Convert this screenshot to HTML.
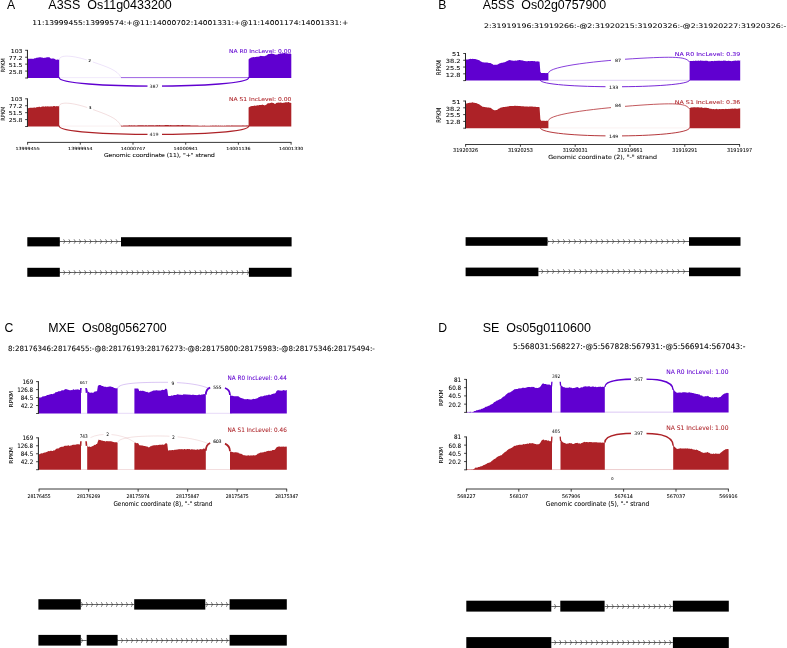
<!DOCTYPE html>
<html lang="en"><head><meta charset="utf-8"><title>Sashimi plots</title>
<style>html,body{margin:0;padding:0;background:#fff;}body{width:787px;height:648px;overflow:hidden;}svg{display:block;}text{white-space:pre;}</style>
</head><body>
<svg width="787" height="648" viewBox="0 0 787 648">
<text transform="translate(7.00,8.90)" font-family="Liberation Sans, sans-serif" font-size="12.2" text-anchor="start" fill="#000" >A</text>
<text transform="translate(48.30,8.90) scale(1.026,1)" font-family="Liberation Sans, sans-serif" font-size="12.2" text-anchor="start" fill="#000" >A3SS  Os11g0433200</text>
<text transform="translate(438.30,8.90)" font-family="Liberation Sans, sans-serif" font-size="12.2" text-anchor="start" fill="#000" >B</text>
<text transform="translate(482.70,8.90) scale(1.018,1)" font-family="Liberation Sans, sans-serif" font-size="12.2" text-anchor="start" fill="#000" >A5SS  Os02g0757900</text>
<text transform="translate(32.30,24.50) scale(1.145,1)" font-family="DejaVu Sans, Liberation Sans, sans-serif" font-size="6.6" text-anchor="start" fill="#000" stroke="#000" stroke-width="0.06" >11:13999455:13999574:+@11:14000702:14001331:+@11:14001174:14001331:+</text>
<text transform="translate(483.90,27.70) scale(1.246,1)" font-family="DejaVu Sans, Liberation Sans, sans-serif" font-size="6.3" text-anchor="start" fill="#000" stroke="#000" stroke-width="0.06" >2:31919196:31919266:-@2:31920215:31920326:-@2:31920227:31920326:-</text>
<path d="M27.45,78.00 L27.45,58.62 L28.26,58.74 L29.08,58.72 L29.89,58.82 L30.71,58.86 L31.52,58.72 L32.33,58.73 L33.15,58.96 L33.96,58.54 L34.78,58.29 L35.59,58.27 L36.41,57.87 L37.22,57.74 L38.03,57.39 L38.85,57.39 L39.66,57.18 L40.48,57.28 L41.29,57.40 L42.10,57.54 L42.92,57.85 L43.73,58.07 L44.55,57.82 L45.36,57.81 L46.17,57.55 L46.99,57.24 L47.80,57.13 L48.62,57.34 L49.43,57.19 L50.24,57.96 L51.06,58.71 L51.87,58.61 L52.69,58.61 L53.50,58.40 L54.32,58.72 L55.13,59.21 L55.94,59.68 L56.76,59.75 L57.57,59.60 L58.39,59.70 L59.20,59.82 L59.20,78.00Z" fill="#6000D0"/>
<path d="M248.60,78.00 L248.60,59.48 L249.41,58.62 L250.21,58.20 L251.02,57.48 L251.82,57.47 L252.63,57.27 L253.43,57.12 L254.24,57.13 L255.05,57.00 L255.85,57.07 L256.66,56.80 L257.46,56.81 L258.27,56.64 L259.07,56.58 L259.88,56.26 L260.68,55.82 L261.49,56.10 L262.30,56.12 L263.10,56.19 L263.91,56.10 L264.71,56.29 L265.52,55.72 L266.32,55.60 L267.13,54.97 L267.94,54.31 L268.74,53.89 L269.55,54.10 L270.35,53.91 L271.16,53.20 L271.96,53.84 L272.77,53.82 L273.58,53.88 L274.38,54.15 L275.19,54.60 L275.99,54.82 L276.80,54.49 L277.60,54.59 L278.41,53.87 L279.22,53.90 L280.02,53.30 L280.83,53.55 L281.63,53.53 L282.44,53.16 L283.24,53.37 L284.05,52.90 L284.85,52.92 L285.66,53.39 L286.47,53.21 L287.27,53.43 L288.08,53.59 L288.88,53.75 L289.69,53.52 L290.49,53.49 L291.30,54.02 L291.30,78.00Z" fill="#6000D0"/>
<path d="M59,77.6 H121" stroke="#6000D0" stroke-opacity="0.15" stroke-width="0.6"/>
<path d="M121,77.6 H248.8" stroke="#6000D0" stroke-opacity="0.95" stroke-width="0.65"/>
<path d="M59.2,59.9 C59.5,54 74,55.5 90,61 S118,70 121,77.6" stroke="#6000D0" stroke-opacity="0.25" stroke-width="0.45" fill="none"/>
<rect x="86.8" y="57.5" width="6" height="6" fill="#fff"/>
<path d="M59.20,77.70 C59.20,88.90 248.70,88.90 248.70,77.70" fill="none" stroke="#6000D0" stroke-width="1.3" stroke-opacity="1" stroke-linecap="round"/>
<rect x="147.50" y="83.10" width="14.50" height="6" fill="#fff"/>
<text transform="translate(154.00,87.70) scale(1.080,1)" font-family="DejaVu Sans, Liberation Sans, sans-serif" font-size="4.5" text-anchor="middle" fill="#222" >387</text>
<text transform="translate(89.80,61.90)" font-family="DejaVu Sans, Liberation Sans, sans-serif" font-size="3.8" text-anchor="middle" fill="#000" stroke="#000" stroke-width="0.12" >2</text>
<path d="M27.45,49.90 V78.40" stroke="#222" stroke-width="1.0" fill="none"/>
<path d="M25.15,50.30 H27.45" stroke="#222" stroke-width="0.85" fill="none"/>
<text transform="translate(22.55,52.81) scale(1.130,1)" font-family="DejaVu Sans, Liberation Sans, sans-serif" font-size="5.5" text-anchor="end" fill="#000" stroke="#000" stroke-width="0.06" >103</text>
<path d="M25.15,57.22 H27.45" stroke="#222" stroke-width="0.85" fill="none"/>
<text transform="translate(22.55,59.73) scale(1.130,1)" font-family="DejaVu Sans, Liberation Sans, sans-serif" font-size="5.5" text-anchor="end" fill="#000" stroke="#000" stroke-width="0.06" >77.2</text>
<path d="M25.15,64.15 H27.45" stroke="#222" stroke-width="0.85" fill="none"/>
<text transform="translate(22.55,66.66) scale(1.130,1)" font-family="DejaVu Sans, Liberation Sans, sans-serif" font-size="5.5" text-anchor="end" fill="#000" stroke="#000" stroke-width="0.06" >51.5</text>
<path d="M25.15,71.08 H27.45" stroke="#222" stroke-width="0.85" fill="none"/>
<text transform="translate(22.55,73.58) scale(1.130,1)" font-family="DejaVu Sans, Liberation Sans, sans-serif" font-size="5.5" text-anchor="end" fill="#000" stroke="#000" stroke-width="0.06" >25.8</text>
<path d="M25.15,78.00 H27.45" stroke="#222" stroke-width="0.85" fill="none"/>
<text transform="translate(4.80,65.25) scale(1.130,1) rotate(-90)" font-family="DejaVu Sans, Liberation Sans, sans-serif" font-size="5.0" text-anchor="middle" fill="#000" stroke="#000" stroke-width="0.06" >RPKM</text>
<text transform="translate(291.30,52.80) scale(1.132,1)" font-family="DejaVu Sans, Liberation Sans, sans-serif" font-size="5.3" text-anchor="end" fill="#6000D0" stroke="#6000D0" stroke-width="0.06" >NA R0 IncLevel: 0.00</text>
<path d="M27.45,126.50 L27.45,107.77 L28.26,108.19 L29.08,108.12 L29.89,107.73 L30.71,107.75 L31.52,107.77 L32.33,107.82 L33.15,107.75 L33.96,107.61 L34.78,107.54 L35.59,107.65 L36.41,107.23 L37.22,107.06 L38.03,107.15 L38.85,106.76 L39.66,106.75 L40.48,107.17 L41.29,106.80 L42.10,106.76 L42.92,106.33 L43.73,106.56 L44.55,106.64 L45.36,106.22 L46.17,106.61 L46.99,106.59 L47.80,106.17 L48.62,106.54 L49.43,106.40 L50.24,106.52 L51.06,106.25 L51.87,106.47 L52.69,106.46 L53.50,105.93 L54.32,105.92 L55.13,106.33 L55.94,106.55 L56.76,106.07 L57.57,106.23 L58.39,106.35 L59.20,106.17 L59.20,126.50Z" fill="#AD2227"/>
<path d="M248.60,126.50 L248.60,107.42 L249.41,106.95 L250.21,106.55 L251.02,106.26 L251.82,105.98 L252.63,105.93 L253.43,106.07 L254.24,105.53 L255.05,105.76 L255.85,105.76 L256.66,105.40 L257.46,105.24 L258.27,105.48 L259.07,105.03 L259.88,104.90 L260.68,104.94 L261.49,104.99 L262.30,104.62 L263.10,104.91 L263.91,105.08 L264.71,105.54 L265.52,104.98 L266.32,104.64 L267.13,103.64 L267.94,103.15 L268.74,103.20 L269.55,103.24 L270.35,102.88 L271.16,102.64 L271.96,102.48 L272.77,103.00 L273.58,103.09 L274.38,103.76 L275.19,103.92 L275.99,103.15 L276.80,102.83 L277.60,102.77 L278.41,102.53 L279.22,102.73 L280.02,102.55 L280.83,102.52 L281.63,102.71 L282.44,103.11 L283.24,102.81 L284.05,102.67 L284.85,102.53 L285.66,102.35 L286.47,102.17 L287.27,102.38 L288.08,102.02 L288.88,102.02 L289.69,102.68 L290.49,102.73 L291.30,102.89 L291.30,126.50Z" fill="#AD2227"/>
<path d="M121.00,126.50 L121.00,125.58 L121.80,125.72 L122.61,125.69 L123.41,125.47 L124.21,125.60 L125.01,125.62 L125.82,125.55 L126.62,125.49 L127.42,125.40 L128.22,125.40 L129.03,125.35 L129.83,125.28 L130.63,125.42 L131.43,125.31 L132.24,125.45 L133.04,125.21 L133.84,125.45 L134.64,125.37 L135.45,125.43 L136.25,125.42 L137.05,125.42 L137.85,125.32 L138.66,125.15 L139.46,125.36 L140.26,125.19 L141.06,125.23 L141.87,125.34 L142.67,125.29 L143.47,125.26 L144.27,125.41 L145.08,125.31 L145.88,125.23 L146.68,125.20 L147.48,125.38 L148.29,125.27 L149.09,125.36 L149.89,125.23 L150.69,125.18 L151.50,125.28 L152.30,125.36 L153.10,125.17 L153.90,125.35 L154.71,125.39 L155.51,125.35 L156.31,125.35 L157.11,125.11 L157.92,125.29 L158.72,125.36 L159.52,125.12 L160.32,125.18 L161.13,125.18 L161.93,125.25 L162.73,125.22 L163.53,125.23 L164.34,125.32 L165.14,125.09 L165.94,125.10 L166.74,125.12 L167.55,125.12 L168.35,125.10 L169.15,125.37 L169.95,125.34 L170.76,125.10 L171.56,125.23 L172.36,125.17 L173.16,125.17 L173.97,125.18 L174.77,125.26 L175.57,125.24 L176.37,125.18 L177.18,125.12 L177.98,125.16 L178.78,125.10 L179.58,125.23 L180.39,125.27 L181.19,125.17 L181.99,125.08 L182.79,125.11 L183.60,125.16 L184.40,125.23 L185.20,125.29 L186.00,125.20 L186.81,125.35 L187.61,125.32 L188.41,125.29 L189.21,125.30 L190.02,125.37 L190.82,125.45 L191.62,125.40 L192.42,125.51 L193.23,125.46 L194.03,125.42 L194.83,125.54 L195.63,125.61 L196.44,125.45 L197.24,125.59 L198.04,125.61 L198.84,125.78 L199.65,125.82 L200.45,125.66 L201.25,125.81 L202.05,125.77 L202.86,125.61 L203.66,125.67 L204.46,125.56 L205.26,125.76 L206.07,125.71 L206.87,125.77 L207.67,125.74 L208.47,125.70 L209.28,125.71 L210.08,125.66 L210.88,125.51 L211.68,125.65 L212.49,125.47 L213.29,125.51 L214.09,125.70 L214.89,125.47 L215.70,125.48 L216.50,125.48 L217.30,125.71 L218.10,125.49 L218.91,125.44 L219.71,125.68 L220.51,125.46 L221.31,125.67 L222.12,125.62 L222.92,125.66 L223.72,125.69 L224.52,125.57 L225.33,125.63 L226.13,125.40 L226.93,125.61 L227.73,125.53 L228.54,125.59 L229.34,125.40 L230.14,125.59 L230.94,125.64 L231.75,125.37 L232.55,125.45 L233.35,125.51 L234.15,125.59 L234.96,125.41 L235.76,125.38 L236.56,125.40 L237.36,125.50 L238.17,125.54 L238.97,125.43 L239.77,125.41 L240.57,125.42 L241.38,125.40 L242.18,125.42 L242.98,125.31 L243.78,125.43 L244.59,125.57 L245.39,125.39 L246.19,125.49 L246.99,125.31 L247.80,125.46 L248.60,125.48 L248.60,126.50Z" fill="#AD2227"/>
<path d="M59,126.1 H248.8" stroke="#AD2227" stroke-opacity="0.12" stroke-width="0.6"/>
<path d="M59.2,106.3 C59.5,101 74,102.8 90,108.5 S118,118 121,126.2" stroke="#AD2227" stroke-opacity="0.33" stroke-width="0.45" fill="none"/>
<rect x="87.2" y="104.5" width="6" height="6" fill="#fff"/>
<path d="M59.20,126.20 C59.20,137.20 248.70,137.20 248.70,126.20" fill="none" stroke="#AD2227" stroke-width="1.25" stroke-opacity="1" stroke-linecap="round"/>
<rect x="147.50" y="131.45" width="14.50" height="6" fill="#fff"/>
<text transform="translate(154.00,136.05) scale(1.080,1)" font-family="DejaVu Sans, Liberation Sans, sans-serif" font-size="4.5" text-anchor="middle" fill="#222" >419</text>
<text transform="translate(90.30,108.80)" font-family="DejaVu Sans, Liberation Sans, sans-serif" font-size="3.8" text-anchor="middle" fill="#000" stroke="#000" stroke-width="0.12" >3</text>
<path d="M27.45,98.40 V126.90" stroke="#222" stroke-width="1.0" fill="none"/>
<path d="M25.15,98.80 H27.45" stroke="#222" stroke-width="0.85" fill="none"/>
<text transform="translate(22.55,101.31) scale(1.130,1)" font-family="DejaVu Sans, Liberation Sans, sans-serif" font-size="5.5" text-anchor="end" fill="#000" stroke="#000" stroke-width="0.06" >103</text>
<path d="M25.15,105.72 H27.45" stroke="#222" stroke-width="0.85" fill="none"/>
<text transform="translate(22.55,108.23) scale(1.130,1)" font-family="DejaVu Sans, Liberation Sans, sans-serif" font-size="5.5" text-anchor="end" fill="#000" stroke="#000" stroke-width="0.06" >77.2</text>
<path d="M25.15,112.65 H27.45" stroke="#222" stroke-width="0.85" fill="none"/>
<text transform="translate(22.55,115.16) scale(1.130,1)" font-family="DejaVu Sans, Liberation Sans, sans-serif" font-size="5.5" text-anchor="end" fill="#000" stroke="#000" stroke-width="0.06" >51.5</text>
<path d="M25.15,119.58 H27.45" stroke="#222" stroke-width="0.85" fill="none"/>
<text transform="translate(22.55,122.08) scale(1.130,1)" font-family="DejaVu Sans, Liberation Sans, sans-serif" font-size="5.5" text-anchor="end" fill="#000" stroke="#000" stroke-width="0.06" >25.8</text>
<path d="M25.15,126.50 H27.45" stroke="#222" stroke-width="0.85" fill="none"/>
<text transform="translate(4.80,113.75) scale(1.130,1) rotate(-90)" font-family="DejaVu Sans, Liberation Sans, sans-serif" font-size="5.0" text-anchor="middle" fill="#000" stroke="#000" stroke-width="0.06" >RPKM</text>
<text transform="translate(291.30,101.30) scale(1.139,1)" font-family="DejaVu Sans, Liberation Sans, sans-serif" font-size="5.3" text-anchor="end" fill="#AD2227" stroke="#AD2227" stroke-width="0.06" >NA S1 IncLevel: 0.00</text>
<path d="M27.20,142.40 H291.50" stroke="#222" stroke-width="0.9" fill="none"/>
<path d="M27.60,142.40 V144.70" stroke="#222" stroke-width="0.85" fill="none"/>
<text transform="translate(27.60,149.60) scale(1.141,1)" font-family="DejaVu Sans, Liberation Sans, sans-serif" font-size="4.2" text-anchor="middle" fill="#000" stroke="#000" stroke-width="0.06" >13999455</text>
<path d="M80.30,142.40 V144.70" stroke="#222" stroke-width="0.85" fill="none"/>
<text transform="translate(80.30,149.60) scale(1.141,1)" font-family="DejaVu Sans, Liberation Sans, sans-serif" font-size="4.2" text-anchor="middle" fill="#000" stroke="#000" stroke-width="0.06" >13999954</text>
<path d="M133.00,142.40 V144.70" stroke="#222" stroke-width="0.85" fill="none"/>
<text transform="translate(133.00,149.60) scale(1.141,1)" font-family="DejaVu Sans, Liberation Sans, sans-serif" font-size="4.2" text-anchor="middle" fill="#000" stroke="#000" stroke-width="0.06" >14000747</text>
<path d="M185.70,142.40 V144.70" stroke="#222" stroke-width="0.85" fill="none"/>
<text transform="translate(185.70,149.60) scale(1.141,1)" font-family="DejaVu Sans, Liberation Sans, sans-serif" font-size="4.2" text-anchor="middle" fill="#000" stroke="#000" stroke-width="0.06" >14000941</text>
<path d="M238.40,142.40 V144.70" stroke="#222" stroke-width="0.85" fill="none"/>
<text transform="translate(238.40,149.60) scale(1.141,1)" font-family="DejaVu Sans, Liberation Sans, sans-serif" font-size="4.2" text-anchor="middle" fill="#000" stroke="#000" stroke-width="0.06" >14001136</text>
<path d="M291.10,142.40 V144.70" stroke="#222" stroke-width="0.85" fill="none"/>
<text transform="translate(291.10,149.60) scale(1.141,1)" font-family="DejaVu Sans, Liberation Sans, sans-serif" font-size="4.2" text-anchor="middle" fill="#000" stroke="#000" stroke-width="0.06" >14001330</text>
<text transform="translate(159.35,157.30) scale(1.101,1)" font-family="DejaVu Sans, Liberation Sans, sans-serif" font-size="5.5" text-anchor="middle" fill="#000" stroke="#000" stroke-width="0.06" >Genomic coordinate (11), "+" strand</text>
<path d="M59.80,241.50 H121.00" stroke="#333" stroke-width="0.75" fill="none"/>
<path d="M58.30,239.25 L59.65,241.50 L58.30,243.75 M63.55,239.25 L64.90,241.50 L63.55,243.75 M68.80,239.25 L70.15,241.50 L68.80,243.75 M74.05,239.25 L75.40,241.50 L74.05,243.75 M79.30,239.25 L80.65,241.50 L79.30,243.75 M84.55,239.25 L85.90,241.50 L84.55,243.75 M89.80,239.25 L91.15,241.50 L89.80,243.75 M95.05,239.25 L96.40,241.50 L95.05,243.75 M100.30,239.25 L101.65,241.50 L100.30,243.75 M105.55,239.25 L106.90,241.50 L105.55,243.75 M110.80,239.25 L112.15,241.50 L110.80,243.75 M116.05,239.25 L117.40,241.50 L116.05,243.75 " stroke="#2a2a2a" stroke-width="0.6" fill="none"/>
<rect x="27.30" y="237.20" width="32.50" height="9.20" fill="#000"/>
<rect x="121.00" y="237.20" width="170.60" height="9.20" fill="#000"/>
<path d="M59.80,272.50 H248.90" stroke="#333" stroke-width="0.75" fill="none"/>
<path d="M58.30,270.25 L59.65,272.50 L58.30,274.75 M63.55,270.25 L64.90,272.50 L63.55,274.75 M68.80,270.25 L70.15,272.50 L68.80,274.75 M74.05,270.25 L75.40,272.50 L74.05,274.75 M79.30,270.25 L80.65,272.50 L79.30,274.75 M84.55,270.25 L85.90,272.50 L84.55,274.75 M89.80,270.25 L91.15,272.50 L89.80,274.75 M95.05,270.25 L96.40,272.50 L95.05,274.75 M100.30,270.25 L101.65,272.50 L100.30,274.75 M105.55,270.25 L106.90,272.50 L105.55,274.75 M110.80,270.25 L112.15,272.50 L110.80,274.75 M116.05,270.25 L117.40,272.50 L116.05,274.75 M121.30,270.25 L122.65,272.50 L121.30,274.75 M126.55,270.25 L127.90,272.50 L126.55,274.75 M131.80,270.25 L133.15,272.50 L131.80,274.75 M137.05,270.25 L138.40,272.50 L137.05,274.75 M142.30,270.25 L143.65,272.50 L142.30,274.75 M147.55,270.25 L148.90,272.50 L147.55,274.75 M152.80,270.25 L154.15,272.50 L152.80,274.75 M158.05,270.25 L159.40,272.50 L158.05,274.75 M163.30,270.25 L164.65,272.50 L163.30,274.75 M168.55,270.25 L169.90,272.50 L168.55,274.75 M173.80,270.25 L175.15,272.50 L173.80,274.75 M179.05,270.25 L180.40,272.50 L179.05,274.75 M184.30,270.25 L185.65,272.50 L184.30,274.75 M189.55,270.25 L190.90,272.50 L189.55,274.75 M194.80,270.25 L196.15,272.50 L194.80,274.75 M200.05,270.25 L201.40,272.50 L200.05,274.75 M205.30,270.25 L206.65,272.50 L205.30,274.75 M210.55,270.25 L211.90,272.50 L210.55,274.75 M215.80,270.25 L217.15,272.50 L215.80,274.75 M221.05,270.25 L222.40,272.50 L221.05,274.75 M226.30,270.25 L227.65,272.50 L226.30,274.75 M231.55,270.25 L232.90,272.50 L231.55,274.75 M236.80,270.25 L238.15,272.50 L236.80,274.75 M242.05,270.25 L243.40,272.50 L242.05,274.75 M247.30,270.25 L248.65,272.50 L247.30,274.75 " stroke="#2a2a2a" stroke-width="0.6" fill="none"/>
<rect x="27.30" y="267.80" width="32.50" height="9.00" fill="#000"/>
<rect x="248.90" y="267.80" width="42.70" height="9.00" fill="#000"/>
<path d="M465.50,80.60 L465.50,59.55 L466.30,59.51 L467.11,59.48 L467.91,59.39 L468.72,59.33 L469.52,58.97 L470.33,58.85 L471.13,58.99 L471.94,58.98 L472.74,58.81 L473.55,58.91 L474.35,59.12 L475.16,59.08 L475.96,59.22 L476.77,59.41 L477.57,59.75 L478.38,59.88 L479.18,60.14 L479.99,60.81 L480.79,61.41 L481.60,61.74 L482.40,62.28 L483.21,62.28 L484.01,62.50 L484.82,62.50 L485.62,62.49 L486.43,62.56 L487.23,62.59 L488.04,62.82 L488.84,62.88 L489.65,62.91 L490.45,63.05 L491.26,63.45 L492.06,64.01 L492.87,64.25 L493.67,64.93 L494.47,64.79 L495.28,64.83 L496.08,64.79 L496.89,64.86 L497.69,64.46 L498.50,63.99 L499.30,63.57 L500.11,63.25 L500.91,62.97 L501.72,62.70 L502.52,62.67 L503.33,62.61 L504.13,62.33 L504.94,62.13 L505.74,61.69 L506.55,61.37 L507.35,60.90 L508.16,60.52 L508.96,60.19 L509.77,59.95 L510.57,60.31 L511.38,60.54 L512.18,60.54 L512.99,60.72 L513.79,60.79 L514.60,60.82 L515.40,60.54 L516.21,60.63 L517.01,60.38 L517.82,60.32 L518.62,60.32 L519.43,60.04 L520.23,60.02 L521.03,60.39 L521.84,60.37 L522.64,60.54 L523.45,60.76 L524.25,60.93 L525.06,60.88 L525.86,61.13 L526.67,61.16 L527.47,61.15 L528.28,61.04 L529.08,61.12 L529.89,61.21 L530.69,61.01 L531.50,61.03 L532.30,60.91 L533.11,61.02 L533.91,61.20 L534.72,61.10 L535.52,61.40 L536.33,61.47 L537.13,61.30 L537.94,61.61 L538.74,61.51 L539.55,61.71 L540.35,71.71 L541.16,72.94 L541.96,73.05 L542.77,73.05 L543.57,73.09 L544.38,72.93 L545.18,73.08 L545.99,73.14 L546.79,73.05 L547.60,73.01 L548.40,72.88 L548.40,80.60Z" fill="#6000D0"/>
<path d="M689.60,80.60 L689.60,61.00 L690.40,60.88 L691.21,61.07 L692.01,61.01 L692.81,60.92 L693.62,60.65 L694.42,60.90 L695.22,60.86 L696.03,60.56 L696.83,60.96 L697.63,60.78 L698.43,60.43 L699.24,60.89 L700.04,60.39 L700.84,60.55 L701.65,60.83 L702.45,60.81 L703.25,60.83 L704.06,60.93 L704.86,60.87 L705.66,60.83 L706.47,60.79 L707.27,60.78 L708.07,61.21 L708.88,61.29 L709.68,61.21 L710.48,61.32 L711.29,61.05 L712.09,60.96 L712.89,60.99 L713.70,61.24 L714.50,60.70 L715.30,60.94 L716.10,60.74 L716.91,61.02 L717.71,60.73 L718.51,60.67 L719.32,60.68 L720.12,60.73 L720.92,60.89 L721.73,60.66 L722.53,60.98 L723.33,60.57 L724.14,60.69 L724.94,60.61 L725.74,60.64 L726.55,61.06 L727.35,61.06 L728.15,60.76 L728.96,60.78 L729.76,60.94 L730.56,61.12 L731.37,61.14 L732.17,61.06 L732.97,60.94 L733.77,60.64 L734.58,60.76 L735.38,60.61 L736.18,60.77 L736.99,60.77 L737.79,60.52 L738.59,60.51 L739.40,60.80 L740.20,60.32 L740.20,80.60Z" fill="#6000D0"/>
<path d="M548,80.3 H690" stroke="#6000D0" stroke-opacity="0.4" stroke-width="0.5"/>
<path d="M548.5,73.0 C549,66 600,60.5 640,58.3 S686,57.5 689.6,62" stroke="#6000D0" stroke-width="0.75" fill="none"/>
<rect x="611" y="56" width="14" height="7" fill="#fff"/>
<text transform="translate(618.00,61.60) scale(1.100,1)" font-family="DejaVu Sans, Liberation Sans, sans-serif" font-size="4.4" text-anchor="middle" fill="#111" stroke="#111" stroke-width="0.04" >87</text>
<path d="M540.20,80.40 C540.20,89.00 689.60,89.00 689.60,80.40" fill="none" stroke="#6000D0" stroke-width="0.85" stroke-opacity="1" stroke-linecap="round"/>
<rect x="605.50" y="83.85" width="16.50" height="6" fill="#fff"/>
<text transform="translate(613.70,88.55) scale(1.100,1)" font-family="DejaVu Sans, Liberation Sans, sans-serif" font-size="4.4" text-anchor="middle" fill="#111" stroke="#111" stroke-width="0.04" >133</text>
<path d="M465.50,53.10 V81.00" stroke="#222" stroke-width="1.0" fill="none"/>
<path d="M463.20,53.50 H465.50" stroke="#222" stroke-width="0.85" fill="none"/>
<text transform="translate(460.60,56.34) scale(1.190,1)" font-family="DejaVu Sans, Liberation Sans, sans-serif" font-size="5.6" text-anchor="end" fill="#000" stroke="#000" stroke-width="0.06" >51</text>
<path d="M463.20,60.27 H465.50" stroke="#222" stroke-width="0.85" fill="none"/>
<text transform="translate(460.60,63.12) scale(1.190,1)" font-family="DejaVu Sans, Liberation Sans, sans-serif" font-size="5.6" text-anchor="end" fill="#000" stroke="#000" stroke-width="0.06" >38.2</text>
<path d="M463.20,67.05 H465.50" stroke="#222" stroke-width="0.85" fill="none"/>
<text transform="translate(460.60,69.89) scale(1.190,1)" font-family="DejaVu Sans, Liberation Sans, sans-serif" font-size="5.6" text-anchor="end" fill="#000" stroke="#000" stroke-width="0.06" >25.5</text>
<path d="M463.20,73.82 H465.50" stroke="#222" stroke-width="0.85" fill="none"/>
<text transform="translate(460.60,76.67) scale(1.190,1)" font-family="DejaVu Sans, Liberation Sans, sans-serif" font-size="5.6" text-anchor="end" fill="#000" stroke="#000" stroke-width="0.06" >12.8</text>
<path d="M463.20,80.60 H465.50" stroke="#222" stroke-width="0.85" fill="none"/>
<text transform="translate(441.20,67.65) scale(1.190,1) rotate(-90)" font-family="DejaVu Sans, Liberation Sans, sans-serif" font-size="5.4" text-anchor="middle" fill="#000" stroke="#000" stroke-width="0.06" >RPKM</text>
<text transform="translate(740.20,56.00) scale(1.190,1)" font-family="DejaVu Sans, Liberation Sans, sans-serif" font-size="5.3" text-anchor="end" fill="#6000D0" stroke="#6000D0" stroke-width="0.06" >NA R0 IncLevel: 0.39</text>
<path d="M465.50,128.20 L465.50,103.39 L466.30,103.42 L467.11,103.41 L467.91,103.08 L468.72,102.97 L469.52,102.82 L470.33,102.70 L471.13,102.72 L471.94,102.54 L472.74,102.35 L473.55,102.66 L474.35,102.70 L475.16,102.88 L475.96,103.06 L476.77,103.13 L477.57,103.66 L478.38,103.92 L479.18,104.25 L479.99,104.91 L480.79,105.54 L481.60,106.12 L482.40,106.74 L483.21,106.69 L484.01,106.94 L484.82,107.09 L485.62,107.13 L486.43,107.27 L487.23,107.47 L488.04,107.54 L488.84,107.41 L489.65,107.69 L490.45,107.73 L491.26,108.16 L492.06,108.88 L492.87,109.47 L493.67,110.05 L494.47,110.16 L495.28,110.23 L496.08,109.99 L496.89,110.05 L497.69,109.49 L498.50,108.80 L499.30,108.50 L500.11,107.91 L500.91,107.60 L501.72,107.41 L502.52,107.30 L503.33,107.05 L504.13,107.07 L504.94,107.00 L505.74,106.87 L506.55,106.63 L507.35,106.61 L508.16,106.42 L508.96,106.22 L509.77,106.12 L510.57,106.06 L511.38,106.02 L512.18,105.93 L512.99,105.95 L513.79,105.94 L514.60,105.81 L515.40,105.81 L516.21,105.90 L517.01,105.83 L517.82,105.91 L518.62,106.03 L519.43,105.95 L520.23,105.93 L521.03,106.24 L521.84,106.28 L522.64,106.27 L523.45,106.36 L524.25,106.51 L525.06,106.62 L525.86,106.60 L526.67,106.54 L527.47,106.59 L528.28,106.75 L529.08,106.54 L529.89,106.62 L530.69,106.53 L531.50,106.52 L532.30,106.53 L533.11,106.68 L533.91,106.68 L534.72,106.72 L535.52,106.82 L536.33,106.91 L537.13,107.08 L537.94,107.03 L538.74,107.09 L539.55,107.33 L540.35,119.16 L541.16,120.86 L541.96,120.67 L542.77,120.77 L543.57,120.77 L544.38,120.66 L545.18,120.94 L545.99,120.72 L546.79,120.68 L547.60,120.79 L548.40,120.70 L548.40,128.20Z" fill="#AD2227"/>
<path d="M689.60,128.20 L689.60,108.06 L690.40,107.78 L691.21,107.52 L692.01,107.34 L692.81,107.53 L693.62,107.16 L694.42,107.36 L695.22,107.22 L696.03,107.48 L696.83,107.19 L697.63,107.20 L698.43,107.23 L699.24,107.53 L700.04,107.47 L700.84,107.41 L701.65,107.36 L702.45,107.74 L703.25,107.96 L704.06,107.85 L704.86,107.64 L705.66,107.73 L706.47,107.87 L707.27,108.03 L708.07,108.08 L708.88,108.21 L709.68,108.63 L710.48,108.87 L711.29,108.64 L712.09,109.14 L712.89,108.92 L713.70,109.12 L714.50,109.20 L715.30,109.24 L716.10,108.82 L716.91,108.99 L717.71,109.17 L718.51,109.37 L719.32,108.97 L720.12,109.09 L720.92,109.34 L721.73,108.94 L722.53,109.04 L723.33,108.98 L724.14,109.12 L724.94,109.22 L725.74,108.81 L726.55,109.06 L727.35,109.02 L728.15,109.04 L728.96,108.87 L729.76,109.02 L730.56,108.71 L731.37,108.72 L732.17,108.60 L732.97,108.85 L733.77,108.68 L734.58,108.55 L735.38,108.48 L736.18,108.73 L736.99,108.65 L737.79,108.68 L738.59,108.49 L739.40,108.52 L740.20,108.33 L740.20,128.20Z" fill="#AD2227"/>
<path d="M548,127.89999999999999 H690" stroke="#AD2227" stroke-opacity="0.13" stroke-width="0.5"/>
<path d="M548.5,120.6 C549,113.6 600,108 640,105.2 S686,104 689.6,109" stroke="#AD2227" stroke-width="0.75" fill="none"/>
<rect x="611" y="102" width="14" height="7" fill="#fff"/>
<text transform="translate(618.00,107.20) scale(1.100,1)" font-family="DejaVu Sans, Liberation Sans, sans-serif" font-size="4.4" text-anchor="middle" fill="#111" stroke="#111" stroke-width="0.04" >84</text>
<path d="M540.20,128.00 C540.20,138.70 689.60,138.70 689.60,128.00" fill="none" stroke="#AD2227" stroke-width="0.9" stroke-opacity="1" stroke-linecap="round"/>
<rect x="605.50" y="133.02" width="16.50" height="6" fill="#fff"/>
<text transform="translate(613.70,137.72) scale(1.100,1)" font-family="DejaVu Sans, Liberation Sans, sans-serif" font-size="4.4" text-anchor="middle" fill="#111" stroke="#111" stroke-width="0.04" >149</text>
<path d="M465.50,100.60 V128.60" stroke="#222" stroke-width="1.0" fill="none"/>
<path d="M463.20,101.00 H465.50" stroke="#222" stroke-width="0.85" fill="none"/>
<text transform="translate(460.60,103.84) scale(1.190,1)" font-family="DejaVu Sans, Liberation Sans, sans-serif" font-size="5.6" text-anchor="end" fill="#000" stroke="#000" stroke-width="0.06" >51</text>
<path d="M463.20,107.80 H465.50" stroke="#222" stroke-width="0.85" fill="none"/>
<text transform="translate(460.60,110.64) scale(1.190,1)" font-family="DejaVu Sans, Liberation Sans, sans-serif" font-size="5.6" text-anchor="end" fill="#000" stroke="#000" stroke-width="0.06" >38.2</text>
<path d="M463.20,114.60 H465.50" stroke="#222" stroke-width="0.85" fill="none"/>
<text transform="translate(460.60,117.44) scale(1.190,1)" font-family="DejaVu Sans, Liberation Sans, sans-serif" font-size="5.6" text-anchor="end" fill="#000" stroke="#000" stroke-width="0.06" >25.5</text>
<path d="M463.20,121.40 H465.50" stroke="#222" stroke-width="0.85" fill="none"/>
<text transform="translate(460.60,124.24) scale(1.190,1)" font-family="DejaVu Sans, Liberation Sans, sans-serif" font-size="5.6" text-anchor="end" fill="#000" stroke="#000" stroke-width="0.06" >12.8</text>
<path d="M463.20,128.20 H465.50" stroke="#222" stroke-width="0.85" fill="none"/>
<text transform="translate(441.20,115.20) scale(1.190,1) rotate(-90)" font-family="DejaVu Sans, Liberation Sans, sans-serif" font-size="5.4" text-anchor="middle" fill="#000" stroke="#000" stroke-width="0.06" >RPKM</text>
<text transform="translate(740.20,103.60) scale(1.197,1)" font-family="DejaVu Sans, Liberation Sans, sans-serif" font-size="5.3" text-anchor="end" fill="#AD2227" stroke="#AD2227" stroke-width="0.06" >NA S1 IncLevel: 0.36</text>
<path d="M465.20,144.50 H740.00" stroke="#222" stroke-width="0.9" fill="none"/>
<path d="M465.60,144.50 V146.80" stroke="#222" stroke-width="0.85" fill="none"/>
<text transform="translate(465.60,151.50) scale(0.927,1)" font-family="DejaVu Sans, Liberation Sans, sans-serif" font-size="5.3" text-anchor="middle" fill="#000" stroke="#000" stroke-width="0.06" >31920326</text>
<path d="M520.40,144.50 V146.80" stroke="#222" stroke-width="0.85" fill="none"/>
<text transform="translate(520.40,151.50) scale(0.927,1)" font-family="DejaVu Sans, Liberation Sans, sans-serif" font-size="5.3" text-anchor="middle" fill="#000" stroke="#000" stroke-width="0.06" >31920253</text>
<path d="M575.20,144.50 V146.80" stroke="#222" stroke-width="0.85" fill="none"/>
<text transform="translate(575.20,151.50) scale(0.927,1)" font-family="DejaVu Sans, Liberation Sans, sans-serif" font-size="5.3" text-anchor="middle" fill="#000" stroke="#000" stroke-width="0.06" >31920031</text>
<path d="M630.00,144.50 V146.80" stroke="#222" stroke-width="0.85" fill="none"/>
<text transform="translate(630.00,151.50) scale(0.927,1)" font-family="DejaVu Sans, Liberation Sans, sans-serif" font-size="5.3" text-anchor="middle" fill="#000" stroke="#000" stroke-width="0.06" >31919661</text>
<path d="M684.80,144.50 V146.80" stroke="#222" stroke-width="0.85" fill="none"/>
<text transform="translate(684.80,151.50) scale(0.927,1)" font-family="DejaVu Sans, Liberation Sans, sans-serif" font-size="5.3" text-anchor="middle" fill="#000" stroke="#000" stroke-width="0.06" >31919291</text>
<path d="M739.60,144.50 V146.80" stroke="#222" stroke-width="0.85" fill="none"/>
<text transform="translate(739.60,151.50) scale(0.927,1)" font-family="DejaVu Sans, Liberation Sans, sans-serif" font-size="5.3" text-anchor="middle" fill="#000" stroke="#000" stroke-width="0.06" >31919197</text>
<text transform="translate(602.60,158.70) scale(1.107,1)" font-family="DejaVu Sans, Liberation Sans, sans-serif" font-size="5.7" text-anchor="middle" fill="#000" stroke="#000" stroke-width="0.06" >Genomic coordinate (2), "-" strand</text>
<path d="M547.50,241.50 H689.00" stroke="#333" stroke-width="0.75" fill="none"/>
<path d="M546.95,239.20 L548.40,241.50 L546.95,243.80 M552.40,239.20 L553.85,241.50 L552.40,243.80 M557.85,239.20 L559.30,241.50 L557.85,243.80 M563.30,239.20 L564.75,241.50 L563.30,243.80 M568.75,239.20 L570.20,241.50 L568.75,243.80 M574.20,239.20 L575.65,241.50 L574.20,243.80 M579.65,239.20 L581.10,241.50 L579.65,243.80 M585.10,239.20 L586.55,241.50 L585.10,243.80 M590.55,239.20 L592.00,241.50 L590.55,243.80 M596.00,239.20 L597.45,241.50 L596.00,243.80 M601.45,239.20 L602.90,241.50 L601.45,243.80 M606.90,239.20 L608.35,241.50 L606.90,243.80 M612.35,239.20 L613.80,241.50 L612.35,243.80 M617.80,239.20 L619.25,241.50 L617.80,243.80 M623.25,239.20 L624.70,241.50 L623.25,243.80 M628.70,239.20 L630.15,241.50 L628.70,243.80 M634.15,239.20 L635.60,241.50 L634.15,243.80 M639.60,239.20 L641.05,241.50 L639.60,243.80 M645.05,239.20 L646.50,241.50 L645.05,243.80 M650.50,239.20 L651.95,241.50 L650.50,243.80 M655.95,239.20 L657.40,241.50 L655.95,243.80 M661.40,239.20 L662.85,241.50 L661.40,243.80 M666.85,239.20 L668.30,241.50 L666.85,243.80 M672.30,239.20 L673.75,241.50 L672.30,243.80 M677.75,239.20 L679.20,241.50 L677.75,243.80 M683.20,239.20 L684.65,241.50 L683.20,243.80 " stroke="#2a2a2a" stroke-width="0.6" fill="none"/>
<rect x="465.60" y="237.20" width="81.90" height="8.60" fill="#000"/>
<rect x="689.00" y="237.20" width="51.50" height="8.60" fill="#000"/>
<path d="M538.40,271.50 H689.00" stroke="#333" stroke-width="0.75" fill="none"/>
<path d="M541.50,269.20 L542.95,271.50 L541.50,273.80 M546.95,269.20 L548.40,271.50 L546.95,273.80 M552.40,269.20 L553.85,271.50 L552.40,273.80 M557.85,269.20 L559.30,271.50 L557.85,273.80 M563.30,269.20 L564.75,271.50 L563.30,273.80 M568.75,269.20 L570.20,271.50 L568.75,273.80 M574.20,269.20 L575.65,271.50 L574.20,273.80 M579.65,269.20 L581.10,271.50 L579.65,273.80 M585.10,269.20 L586.55,271.50 L585.10,273.80 M590.55,269.20 L592.00,271.50 L590.55,273.80 M596.00,269.20 L597.45,271.50 L596.00,273.80 M601.45,269.20 L602.90,271.50 L601.45,273.80 M606.90,269.20 L608.35,271.50 L606.90,273.80 M612.35,269.20 L613.80,271.50 L612.35,273.80 M617.80,269.20 L619.25,271.50 L617.80,273.80 M623.25,269.20 L624.70,271.50 L623.25,273.80 M628.70,269.20 L630.15,271.50 L628.70,273.80 M634.15,269.20 L635.60,271.50 L634.15,273.80 M639.60,269.20 L641.05,271.50 L639.60,273.80 M645.05,269.20 L646.50,271.50 L645.05,273.80 M650.50,269.20 L651.95,271.50 L650.50,273.80 M655.95,269.20 L657.40,271.50 L655.95,273.80 M661.40,269.20 L662.85,271.50 L661.40,273.80 M666.85,269.20 L668.30,271.50 L666.85,273.80 M672.30,269.20 L673.75,271.50 L672.30,273.80 M677.75,269.20 L679.20,271.50 L677.75,273.80 M683.20,269.20 L684.65,271.50 L683.20,273.80 " stroke="#2a2a2a" stroke-width="0.6" fill="none"/>
<rect x="465.60" y="267.60" width="72.80" height="8.60" fill="#000"/>
<rect x="689.00" y="267.60" width="51.50" height="8.60" fill="#000"/>
<text transform="translate(4.50,332.40)" font-family="Liberation Sans, sans-serif" font-size="12.2" text-anchor="start" fill="#000" >C</text>
<text transform="translate(48.30,332.40) scale(1.016,1)" font-family="Liberation Sans, sans-serif" font-size="12.2" text-anchor="start" fill="#000" >MXE  Os08g0562700</text>
<text transform="translate(8.00,351.00) scale(0.973,1)" font-family="DejaVu Sans, Liberation Sans, sans-serif" font-size="7.3" text-anchor="start" fill="#000" stroke="#000" stroke-width="0.06" >8:28176346:28176455:-@8:28176193:28176273:-@8:28175800:28175983:-@8:28175346:28175494:-</text>
<path d="M38.40,413.50 L38.40,398.33 L39.20,397.62 L40.01,397.62 L40.81,397.53 L41.62,397.20 L42.42,396.54 L43.22,396.35 L44.03,396.45 L44.83,396.03 L45.63,395.89 L46.44,395.60 L47.24,395.04 L48.05,395.05 L48.85,394.79 L49.65,394.39 L50.46,394.27 L51.26,393.93 L52.06,393.99 L52.87,394.20 L53.67,393.51 L54.48,393.41 L55.28,392.56 L56.08,392.01 L56.89,392.15 L57.69,391.67 L58.49,391.33 L59.30,391.17 L60.10,391.26 L60.91,390.96 L61.71,390.33 L62.51,390.21 L63.32,390.42 L64.12,389.67 L64.92,389.52 L65.73,389.07 L66.53,389.34 L67.34,389.47 L68.14,389.85 L68.94,390.09 L69.75,390.27 L70.55,390.26 L71.35,389.99 L72.16,390.27 L72.96,389.61 L73.77,389.35 L74.57,389.90 L75.37,389.41 L76.18,389.85 L76.98,389.33 L77.78,389.58 L78.59,389.48 L79.39,389.95 L80.20,389.52 L81.00,388.09 L81.00,413.50Z" fill="#6000D0"/>
<path d="M87.20,413.50 L87.20,388.37 L88.02,391.85 L88.84,392.01 L89.66,392.66 L90.49,392.73 L91.31,392.46 L92.13,392.87 L92.95,392.66 L93.77,392.41 L94.59,391.61 L95.42,391.52 L96.24,391.25 L97.06,391.21 L97.88,385.89 L98.70,385.17 L99.52,385.09 L100.35,384.99 L101.17,385.50 L101.99,385.95 L102.81,386.07 L103.63,386.55 L104.45,386.85 L105.28,386.80 L106.10,386.82 L106.92,387.16 L107.74,386.68 L108.56,386.67 L109.38,386.38 L110.21,386.44 L111.03,386.49 L111.85,387.06 L112.67,387.01 L113.49,387.41 L114.31,387.93 L115.14,388.09 L115.96,388.39 L116.78,388.23 L117.60,388.25 L117.60,413.50Z" fill="#6000D0"/>
<path d="M134.40,413.50 L134.40,388.49 L135.20,388.52 L136.00,388.61 L136.81,388.38 L137.61,388.62 L138.41,388.77 L139.21,390.94 L140.02,390.95 L140.82,390.61 L141.62,391.09 L142.42,390.67 L143.22,390.68 L144.03,391.15 L144.83,391.20 L145.63,391.67 L146.43,392.00 L147.24,391.84 L148.04,392.50 L148.84,392.41 L149.64,392.21 L150.44,391.73 L151.25,391.56 L152.05,391.15 L152.85,390.76 L153.65,390.55 L154.46,390.59 L155.26,390.56 L156.06,390.26 L156.86,390.21 L157.67,390.51 L158.47,390.40 L159.27,390.54 L160.07,390.50 L160.87,390.40 L161.68,390.03 L162.48,389.86 L163.28,389.92 L164.08,389.92 L164.89,389.40 L165.69,388.85 L166.49,388.82 L167.29,389.63 L168.09,395.85 L168.90,395.89 L169.70,396.08 L170.50,395.95 L171.30,395.54 L172.11,395.42 L172.91,395.64 L173.71,395.00 L174.51,394.95 L175.31,395.07 L176.12,394.94 L176.92,394.57 L177.72,394.36 L178.52,394.41 L179.33,394.77 L180.13,394.58 L180.93,394.91 L181.73,394.78 L182.53,394.91 L183.34,394.30 L184.14,394.40 L184.94,394.29 L185.74,394.56 L186.55,394.52 L187.35,394.38 L188.15,394.74 L188.95,394.49 L189.76,394.67 L190.56,394.67 L191.36,395.06 L192.16,394.86 L192.96,394.79 L193.77,394.70 L194.57,394.94 L195.37,395.04 L196.17,395.04 L196.98,395.16 L197.78,395.07 L198.58,394.69 L199.38,394.59 L200.18,394.94 L200.99,394.84 L201.79,394.54 L202.59,394.62 L203.39,394.32 L204.20,394.10 L205.00,394.21 L205.80,394.29 L205.80,413.50Z" fill="#6000D0"/>
<path d="M230.00,413.50 L230.00,395.09 L230.80,395.52 L231.60,395.79 L232.40,395.78 L233.20,396.12 L234.00,396.35 L234.80,396.34 L235.60,396.27 L236.40,396.22 L237.20,396.35 L238.00,396.19 L238.80,396.60 L239.60,397.32 L240.40,397.87 L241.20,397.91 L242.00,398.14 L242.80,398.43 L243.60,398.81 L244.40,399.22 L245.20,399.05 L246.00,399.43 L246.80,398.97 L247.60,399.12 L248.40,399.31 L249.20,399.29 L250.00,399.62 L250.80,399.53 L251.60,399.52 L252.40,399.23 L253.20,398.78 L254.00,399.05 L254.80,398.95 L255.60,398.83 L256.40,398.44 L257.20,398.27 L258.00,397.96 L258.80,397.01 L259.60,396.93 L260.40,396.44 L261.20,396.37 L262.00,396.45 L262.80,396.33 L263.60,395.97 L264.40,395.52 L265.20,395.83 L266.00,395.20 L266.80,395.17 L267.60,395.29 L268.40,394.80 L269.20,394.61 L270.00,394.89 L270.80,394.72 L271.60,394.16 L272.40,394.05 L273.20,393.82 L274.00,393.56 L274.80,393.48 L275.60,393.01 L276.40,391.23 L277.20,390.42 L278.00,390.37 L278.80,390.26 L279.60,390.51 L280.40,390.62 L281.20,390.65 L282.00,390.48 L282.80,390.60 L283.60,390.08 L284.40,390.26 L285.20,390.70 L286.00,390.12 L286.80,390.25 L286.80,413.50Z" fill="#6000D0"/>
<path d="M80,413.3 H232" stroke="#6000D0" stroke-opacity="0.3" stroke-width="0.5"/>
<path d="M80.6,392.90 L80.9,388.00" stroke="#6000D0" stroke-width="1.6" fill="none"/>
<path d="M86.5,392.90 L86.1,388.00" stroke="#6000D0" stroke-width="1.6" fill="none"/>
<path d="M38.40,381.20 V413.90" stroke="#222" stroke-width="1.0" fill="none"/>
<path d="M36.10,381.60 H38.40" stroke="#222" stroke-width="0.85" fill="none"/>
<text transform="translate(33.20,384.13) scale(0.920,1)" font-family="DejaVu Sans, Liberation Sans, sans-serif" font-size="6.1" text-anchor="end" fill="#000" stroke="#000" stroke-width="0.06" >169</text>
<path d="M36.10,389.58 H38.40" stroke="#222" stroke-width="0.85" fill="none"/>
<text transform="translate(33.20,392.10) scale(0.920,1)" font-family="DejaVu Sans, Liberation Sans, sans-serif" font-size="6.1" text-anchor="end" fill="#000" stroke="#000" stroke-width="0.06" >126.8</text>
<path d="M36.10,397.55 H38.40" stroke="#222" stroke-width="0.85" fill="none"/>
<text transform="translate(33.20,400.08) scale(0.920,1)" font-family="DejaVu Sans, Liberation Sans, sans-serif" font-size="6.1" text-anchor="end" fill="#000" stroke="#000" stroke-width="0.06" >84.5</text>
<path d="M36.10,405.52 H38.40" stroke="#222" stroke-width="0.85" fill="none"/>
<text transform="translate(33.20,408.05) scale(0.920,1)" font-family="DejaVu Sans, Liberation Sans, sans-serif" font-size="6.1" text-anchor="end" fill="#000" stroke="#000" stroke-width="0.06" >42.2</text>
<path d="M36.10,413.50 H38.40" stroke="#222" stroke-width="0.85" fill="none"/>
<text transform="translate(12.60,399.15) scale(0.920,1) rotate(-90)" font-family="DejaVu Sans, Liberation Sans, sans-serif" font-size="5.9" text-anchor="middle" fill="#000" stroke="#000" stroke-width="0.06" >RPKM</text>
<path d="M38.40,469.70 L38.40,454.59 L39.20,454.17 L40.01,454.07 L40.81,453.47 L41.62,453.31 L42.42,453.49 L43.22,452.70 L44.03,452.93 L44.83,452.21 L45.63,452.47 L46.44,452.01 L47.24,451.74 L48.05,451.16 L48.85,451.00 L49.65,451.35 L50.46,450.87 L51.26,450.77 L52.06,451.06 L52.87,450.99 L53.67,450.36 L54.48,450.56 L55.28,449.73 L56.08,449.09 L56.89,448.59 L57.69,448.45 L58.49,448.51 L59.30,447.74 L60.10,447.33 L60.91,447.06 L61.71,446.76 L62.51,446.63 L63.32,446.70 L64.12,445.88 L64.92,445.63 L65.73,445.79 L66.53,445.74 L67.34,445.77 L68.14,445.34 L68.94,445.45 L69.75,445.88 L70.55,445.48 L71.35,445.46 L72.16,445.05 L72.96,444.70 L73.77,444.75 L74.57,444.87 L75.37,444.77 L76.18,444.52 L76.98,444.33 L77.78,444.26 L78.59,444.28 L79.39,444.50 L80.20,444.62 L81.00,443.41 L81.00,469.70Z" fill="#AD2227"/>
<path d="M87.20,469.70 L87.20,445.66 L88.02,446.68 L88.84,446.79 L89.66,446.53 L90.49,447.00 L91.31,446.76 L92.13,446.16 L92.95,446.06 L93.77,445.47 L94.59,444.80 L95.42,444.90 L96.24,444.12 L97.06,444.01 L97.88,441.53 L98.70,439.45 L99.52,439.90 L100.35,439.93 L101.17,440.38 L101.99,440.51 L102.81,440.69 L103.63,441.11 L104.45,440.96 L105.28,441.41 L106.10,441.32 L106.92,441.10 L107.74,441.35 L108.56,441.14 L109.38,441.23 L110.21,441.15 L111.03,441.24 L111.85,441.39 L112.67,441.67 L113.49,442.03 L114.31,442.13 L115.14,442.22 L115.96,442.34 L116.78,442.13 L117.60,442.71 L117.60,469.70Z" fill="#AD2227"/>
<path d="M134.40,469.70 L134.40,442.65 L135.20,442.62 L136.00,442.92 L136.81,443.13 L137.61,442.95 L138.41,443.53 L139.21,445.08 L140.02,445.58 L140.82,445.32 L141.62,445.40 L142.42,445.49 L143.22,445.78 L144.03,445.92 L144.83,445.95 L145.63,446.22 L146.43,446.59 L147.24,446.45 L148.04,446.90 L148.84,447.38 L149.64,447.03 L150.44,446.15 L151.25,446.23 L152.05,445.52 L152.85,445.81 L153.65,445.32 L154.46,445.13 L155.26,445.25 L156.06,445.37 L156.86,444.99 L157.67,445.17 L158.47,445.01 L159.27,444.75 L160.07,444.67 L160.87,444.76 L161.68,444.65 L162.48,444.59 L163.28,444.73 L164.08,444.78 L164.89,444.03 L165.69,443.19 L166.49,443.33 L167.29,443.92 L168.09,450.66 L168.90,450.28 L169.70,450.16 L170.50,450.24 L171.30,450.13 L172.11,449.88 L172.91,450.07 L173.71,450.18 L174.51,449.80 L175.31,449.80 L176.12,449.72 L176.92,449.60 L177.72,449.51 L178.52,449.16 L179.33,449.32 L180.13,448.96 L180.93,449.44 L181.73,449.12 L182.53,449.18 L183.34,449.45 L184.14,449.06 L184.94,449.00 L185.74,449.41 L186.55,449.29 L187.35,449.00 L188.15,449.01 L188.95,449.25 L189.76,449.07 L190.56,449.64 L191.36,449.27 L192.16,449.36 L192.96,449.48 L193.77,449.60 L194.57,449.54 L195.37,449.64 L196.17,449.63 L196.98,449.46 L197.78,449.22 L198.58,449.75 L199.38,449.54 L200.18,449.11 L200.99,449.21 L201.79,449.29 L202.59,449.33 L203.39,448.61 L204.20,448.53 L205.00,449.01 L205.80,449.15 L205.80,469.70Z" fill="#AD2227"/>
<path d="M230.00,469.70 L230.00,451.45 L230.80,451.68 L231.60,451.63 L232.40,451.95 L233.20,452.27 L234.00,452.53 L234.80,452.15 L235.60,452.34 L236.40,452.21 L237.20,452.63 L238.00,452.30 L238.80,453.28 L239.60,453.42 L240.40,453.81 L241.20,453.81 L242.00,454.23 L242.80,454.70 L243.60,455.27 L244.40,455.25 L245.20,455.14 L246.00,455.64 L246.80,455.49 L247.60,455.46 L248.40,455.30 L249.20,455.42 L250.00,455.86 L250.80,455.29 L251.60,455.46 L252.40,455.44 L253.20,455.19 L254.00,455.37 L254.80,455.38 L255.60,455.27 L256.40,454.93 L257.20,454.15 L258.00,453.62 L258.80,453.42 L259.60,452.90 L260.40,452.52 L261.20,452.80 L262.00,452.22 L262.80,452.45 L263.60,452.36 L264.40,451.68 L265.20,452.02 L266.00,451.53 L266.80,451.26 L267.60,451.08 L268.40,450.82 L269.20,450.96 L270.00,450.73 L270.80,450.86 L271.60,450.69 L272.40,450.04 L273.20,450.10 L274.00,449.93 L274.80,449.63 L275.60,448.74 L276.40,447.55 L277.20,446.92 L278.00,446.66 L278.80,446.48 L279.60,446.52 L280.40,446.63 L281.20,446.67 L282.00,446.44 L282.80,446.73 L283.60,446.42 L284.40,446.71 L285.20,446.67 L286.00,446.39 L286.80,446.76 L286.80,469.70Z" fill="#AD2227"/>
<path d="M80,469.5 H232" stroke="#AD2227" stroke-opacity="0.3" stroke-width="0.5"/>
<path d="M80.6,445.90 L80.9,441.30" stroke="#AD2227" stroke-width="1.6" fill="none"/>
<path d="M86.5,445.90 L86.1,441.30" stroke="#AD2227" stroke-width="1.6" fill="none"/>
<path d="M38.40,437.40 V470.10" stroke="#222" stroke-width="1.0" fill="none"/>
<path d="M36.10,437.80 H38.40" stroke="#222" stroke-width="0.85" fill="none"/>
<text transform="translate(33.20,440.33) scale(0.920,1)" font-family="DejaVu Sans, Liberation Sans, sans-serif" font-size="6.1" text-anchor="end" fill="#000" stroke="#000" stroke-width="0.06" >169</text>
<path d="M36.10,445.77 H38.40" stroke="#222" stroke-width="0.85" fill="none"/>
<text transform="translate(33.20,448.30) scale(0.920,1)" font-family="DejaVu Sans, Liberation Sans, sans-serif" font-size="6.1" text-anchor="end" fill="#000" stroke="#000" stroke-width="0.06" >126.8</text>
<path d="M36.10,453.75 H38.40" stroke="#222" stroke-width="0.85" fill="none"/>
<text transform="translate(33.20,456.28) scale(0.920,1)" font-family="DejaVu Sans, Liberation Sans, sans-serif" font-size="6.1" text-anchor="end" fill="#000" stroke="#000" stroke-width="0.06" >84.5</text>
<path d="M36.10,461.73 H38.40" stroke="#222" stroke-width="0.85" fill="none"/>
<text transform="translate(33.20,464.25) scale(0.920,1)" font-family="DejaVu Sans, Liberation Sans, sans-serif" font-size="6.1" text-anchor="end" fill="#000" stroke="#000" stroke-width="0.06" >42.2</text>
<path d="M36.10,469.70 H38.40" stroke="#222" stroke-width="0.85" fill="none"/>
<text transform="translate(12.60,455.35) scale(0.920,1) rotate(-90)" font-family="DejaVu Sans, Liberation Sans, sans-serif" font-size="5.9" text-anchor="middle" fill="#000" stroke="#000" stroke-width="0.06" >RPKM</text>
<path d="M117.7,388.4 C118,383 140,382.3 165,382.3 S205,386 209.5,389" stroke="#6000D0" stroke-opacity="0.45" stroke-width="0.5" fill="none"/>
<rect x="168" y="379" width="9" height="7" fill="#fff"/>
<text transform="translate(172.80,384.70) scale(0.930,1)" font-family="DejaVu Sans, Liberation Sans, sans-serif" font-size="4.8" text-anchor="middle" fill="#000" stroke="#000" stroke-width="0.06" >9</text>
<path d="M205.8,394.6 C205.9,391 207.5,388.5 210.2,387.6" stroke="#6000D0" stroke-width="1.8" fill="none"/>
<path d="M230.0,395.0 C229.9,391.5 228,389 225.0,388.0" stroke="#6000D0" stroke-width="1.8" fill="none"/>
<text transform="translate(217.40,388.80) scale(0.930,1)" font-family="DejaVu Sans, Liberation Sans, sans-serif" font-size="4.6" text-anchor="middle" fill="#000" stroke="#000" stroke-width="0.06" >555</text>
<text transform="translate(83.60,383.90) scale(1.061,1)" font-family="DejaVu Sans, Liberation Sans, sans-serif" font-size="3.9" text-anchor="middle" fill="#000" >667</text>
<text transform="translate(286.80,380.40) scale(0.929,1)" font-family="DejaVu Sans, Liberation Sans, sans-serif" font-size="6.15" text-anchor="end" fill="#6000D0" stroke="#6000D0" stroke-width="0.06" >NA R0 IncLevel: 0.44</text>
<path d="M90.5,437.6 C100,432.6 121,432.8 134.6,442.2" stroke="#AD2227" stroke-opacity="0.28" stroke-width="0.45" fill="none"/>
<path d="M117.7,442.4 C119,437 140,435.8 162,436.0 S203,440.6 209.5,444.4" stroke="#AD2227" stroke-opacity="0.3" stroke-width="0.45" fill="none"/>
<rect x="103.5" y="430.5" width="8" height="6" fill="#fff"/><rect x="169.5" y="433.5" width="8" height="6" fill="#fff"/>
<text transform="translate(107.60,435.70) scale(0.930,1)" font-family="DejaVu Sans, Liberation Sans, sans-serif" font-size="4.7" text-anchor="middle" fill="#000" >2</text>
<text transform="translate(173.50,438.70) scale(0.930,1)" font-family="DejaVu Sans, Liberation Sans, sans-serif" font-size="4.7" text-anchor="middle" fill="#000" >2</text>
<path d="M205.8,450.8 C205.9,447 207.5,444 210.2,443.0" stroke="#AD2227" stroke-width="1.8" fill="none"/>
<path d="M230.0,451.2 C229.9,447.5 228,445 225.0,443.6" stroke="#AD2227" stroke-width="1.8" fill="none"/>
<text transform="translate(217.40,443.20) scale(0.930,1)" font-family="DejaVu Sans, Liberation Sans, sans-serif" font-size="4.6" text-anchor="middle" fill="#000" stroke="#000" stroke-width="0.06" >603</text>
<text transform="translate(83.70,437.90) scale(0.849,1)" font-family="DejaVu Sans, Liberation Sans, sans-serif" font-size="5.0" text-anchor="middle" fill="#000" >743</text>
<text transform="translate(286.80,432.20) scale(0.934,1)" font-family="DejaVu Sans, Liberation Sans, sans-serif" font-size="6.15" text-anchor="end" fill="#AD2227" stroke="#AD2227" stroke-width="0.06" >NA S1 IncLevel: 0.46</text>
<path d="M38.70,489.00 H287.10" stroke="#222" stroke-width="0.9" fill="none"/>
<path d="M39.10,489.00 V491.70" stroke="#222" stroke-width="0.85" fill="none"/>
<text transform="translate(39.10,497.60) scale(0.912,1)" font-family="DejaVu Sans, Liberation Sans, sans-serif" font-size="5.0" text-anchor="middle" fill="#000" stroke="#000" stroke-width="0.06" >28176455</text>
<path d="M88.62,489.00 V491.70" stroke="#222" stroke-width="0.85" fill="none"/>
<text transform="translate(88.62,497.60) scale(0.912,1)" font-family="DejaVu Sans, Liberation Sans, sans-serif" font-size="5.0" text-anchor="middle" fill="#000" stroke="#000" stroke-width="0.06" >28176269</text>
<path d="M138.14,489.00 V491.70" stroke="#222" stroke-width="0.85" fill="none"/>
<text transform="translate(138.14,497.60) scale(0.912,1)" font-family="DejaVu Sans, Liberation Sans, sans-serif" font-size="5.0" text-anchor="middle" fill="#000" stroke="#000" stroke-width="0.06" >28175974</text>
<path d="M187.66,489.00 V491.70" stroke="#222" stroke-width="0.85" fill="none"/>
<text transform="translate(187.66,497.60) scale(0.912,1)" font-family="DejaVu Sans, Liberation Sans, sans-serif" font-size="5.0" text-anchor="middle" fill="#000" stroke="#000" stroke-width="0.06" >28175847</text>
<path d="M237.18,489.00 V491.70" stroke="#222" stroke-width="0.85" fill="none"/>
<text transform="translate(237.18,497.60) scale(0.912,1)" font-family="DejaVu Sans, Liberation Sans, sans-serif" font-size="5.0" text-anchor="middle" fill="#000" stroke="#000" stroke-width="0.06" >28175475</text>
<path d="M286.70,489.00 V491.70" stroke="#222" stroke-width="0.85" fill="none"/>
<text transform="translate(286.70,497.60) scale(0.912,1)" font-family="DejaVu Sans, Liberation Sans, sans-serif" font-size="5.0" text-anchor="middle" fill="#000" stroke="#000" stroke-width="0.06" >28175347</text>
<text transform="translate(162.90,505.80) scale(0.871,1)" font-family="DejaVu Sans, Liberation Sans, sans-serif" font-size="6.6" text-anchor="middle" fill="#000" stroke="#000" stroke-width="0.06" >Genomic coordinate (8), "-" strand</text>
<path d="M80.80,604.50 H134.20" stroke="#333" stroke-width="0.75" fill="none"/>
<path d="M81.35,602.20 L82.50,604.50 L81.35,606.80 M86.35,602.20 L87.50,604.50 L86.35,606.80 M91.35,602.20 L92.50,604.50 L91.35,606.80 M96.35,602.20 L97.50,604.50 L96.35,606.80 M101.35,602.20 L102.50,604.50 L101.35,606.80 M106.35,602.20 L107.50,604.50 L106.35,606.80 M111.35,602.20 L112.50,604.50 L111.35,606.80 M116.35,602.20 L117.50,604.50 L116.35,606.80 M121.35,602.20 L122.50,604.50 L121.35,606.80 M126.35,602.20 L127.50,604.50 L126.35,606.80 M131.35,602.20 L132.50,604.50 L131.35,606.80 " stroke="#2a2a2a" stroke-width="0.6" fill="none"/>
<path d="M205.30,604.50 H229.60" stroke="#333" stroke-width="0.75" fill="none"/>
<path d="M206.35,602.20 L207.50,604.50 L206.35,606.80 M211.35,602.20 L212.50,604.50 L211.35,606.80 M216.35,602.20 L217.50,604.50 L216.35,606.80 M221.35,602.20 L222.50,604.50 L221.35,606.80 M226.35,602.20 L227.50,604.50 L226.35,606.80 " stroke="#2a2a2a" stroke-width="0.6" fill="none"/>
<rect x="38.40" y="599.20" width="42.40" height="10.40" fill="#000"/>
<rect x="134.20" y="599.20" width="71.10" height="10.40" fill="#000"/>
<rect x="229.60" y="599.20" width="57.20" height="10.40" fill="#000"/>
<path d="M80.80,640.50 H86.70" stroke="#333" stroke-width="0.75" fill="none"/>
<path d="M81.35,638.20 L82.50,640.50 L81.35,642.80 " stroke="#2a2a2a" stroke-width="0.6" fill="none"/>
<path d="M117.60,640.50 H229.60" stroke="#333" stroke-width="0.75" fill="none"/>
<path d="M116.35,638.20 L117.50,640.50 L116.35,642.80 M121.35,638.20 L122.50,640.50 L121.35,642.80 M126.35,638.20 L127.50,640.50 L126.35,642.80 M131.35,638.20 L132.50,640.50 L131.35,642.80 M136.35,638.20 L137.50,640.50 L136.35,642.80 M141.35,638.20 L142.50,640.50 L141.35,642.80 M146.35,638.20 L147.50,640.50 L146.35,642.80 M151.35,638.20 L152.50,640.50 L151.35,642.80 M156.35,638.20 L157.50,640.50 L156.35,642.80 M161.35,638.20 L162.50,640.50 L161.35,642.80 M166.35,638.20 L167.50,640.50 L166.35,642.80 M171.35,638.20 L172.50,640.50 L171.35,642.80 M176.35,638.20 L177.50,640.50 L176.35,642.80 M181.35,638.20 L182.50,640.50 L181.35,642.80 M186.35,638.20 L187.50,640.50 L186.35,642.80 M191.35,638.20 L192.50,640.50 L191.35,642.80 M196.35,638.20 L197.50,640.50 L196.35,642.80 M201.35,638.20 L202.50,640.50 L201.35,642.80 M206.35,638.20 L207.50,640.50 L206.35,642.80 M211.35,638.20 L212.50,640.50 L211.35,642.80 M216.35,638.20 L217.50,640.50 L216.35,642.80 M221.35,638.20 L222.50,640.50 L221.35,642.80 M226.35,638.20 L227.50,640.50 L226.35,642.80 " stroke="#2a2a2a" stroke-width="0.6" fill="none"/>
<rect x="38.40" y="634.90" width="42.40" height="10.70" fill="#000"/>
<rect x="86.70" y="634.90" width="30.90" height="10.70" fill="#000"/>
<rect x="229.60" y="634.90" width="57.20" height="10.70" fill="#000"/>
<text transform="translate(438.30,332.40)" font-family="Liberation Sans, sans-serif" font-size="12.2" text-anchor="start" fill="#000" >D</text>
<text transform="translate(482.70,332.40) scale(1.026,1)" font-family="Liberation Sans, sans-serif" font-size="12.2" text-anchor="start" fill="#000" >SE  Os05g0110600</text>
<text transform="translate(513.00,349.00) scale(0.991,1)" font-family="DejaVu Sans, Liberation Sans, sans-serif" font-size="7.6" text-anchor="start" fill="#000" stroke="#000" stroke-width="0.06" >5:568031:568227:-@5:567828:567931:-@5:566914:567043:-</text>
<path d="M466.40,412.40 L466.40,412.03 L467.20,412.11 L468.00,412.14 L468.80,412.15 L469.60,412.02 L470.40,411.76 L471.20,412.21 L472.00,412.25 L472.80,412.00 L473.60,411.73 L474.40,410.98 L475.20,411.10 L476.00,410.68 L476.80,410.09 L477.60,410.24 L478.40,410.12 L479.20,409.49 L480.00,409.68 L480.80,409.13 L481.60,408.71 L482.40,408.75 L483.20,408.14 L484.00,408.02 L484.80,407.55 L485.60,406.87 L486.40,406.76 L487.20,406.60 L488.00,405.99 L488.80,405.63 L489.60,405.43 L490.40,404.77 L491.20,404.40 L492.00,404.05 L492.80,403.63 L493.60,402.66 L494.40,402.01 L495.20,401.86 L496.00,401.15 L496.80,400.42 L497.60,400.38 L498.40,400.02 L499.20,399.44 L500.00,399.36 L500.80,398.91 L501.60,398.31 L502.40,397.42 L503.20,396.64 L504.00,396.46 L504.80,395.90 L505.60,394.98 L506.40,394.37 L507.20,393.74 L508.00,392.84 L508.80,392.86 L509.60,392.51 L510.40,392.13 L511.20,391.59 L512.00,391.23 L512.80,390.44 L513.60,390.06 L514.40,389.31 L515.20,389.29 L516.00,389.01 L516.80,388.98 L517.60,388.93 L518.40,388.48 L519.20,388.32 L520.00,388.46 L520.80,388.14 L521.60,388.20 L522.40,387.85 L523.20,387.68 L524.00,387.82 L524.80,387.96 L525.60,387.82 L526.40,387.49 L527.20,387.31 L528.00,386.99 L528.80,387.02 L529.60,386.93 L530.40,387.26 L531.20,386.68 L532.00,387.15 L532.80,386.80 L533.60,387.06 L534.40,387.35 L535.20,388.11 L536.00,387.65 L536.80,387.94 L537.60,387.94 L538.40,387.78 L539.20,387.58 L540.00,387.11 L540.80,386.03 L541.60,384.87 L542.40,383.80 L543.20,383.31 L544.00,383.89 L544.80,384.11 L545.60,383.91 L546.40,384.18 L547.20,384.63 L548.00,384.34 L548.80,384.74 L549.60,384.59 L550.40,385.17 L551.20,385.19 L552.00,385.61 L552.00,412.40Z" fill="#6000D0"/>
<path d="M560.50,412.40 L560.50,384.32 L561.31,385.52 L562.11,386.19 L562.92,386.73 L563.72,387.18 L564.53,387.31 L565.33,387.85 L566.14,387.73 L566.94,387.86 L567.75,387.82 L568.55,387.64 L569.36,387.36 L570.17,387.42 L570.97,387.85 L571.78,387.71 L572.58,388.20 L573.39,388.02 L574.19,388.12 L575.00,387.87 L575.80,387.61 L576.61,387.21 L577.41,387.02 L578.22,387.56 L579.03,387.90 L579.83,388.22 L580.64,387.56 L581.44,387.20 L582.25,387.41 L583.05,386.93 L583.86,386.45 L584.66,386.57 L585.47,386.22 L586.27,386.50 L587.08,386.61 L587.89,386.60 L588.69,386.34 L589.50,386.35 L590.30,386.69 L591.11,386.89 L591.91,386.44 L592.72,386.39 L593.52,386.47 L594.33,386.94 L595.13,386.72 L595.94,386.79 L596.75,387.17 L597.55,386.95 L598.36,386.75 L599.16,387.05 L599.97,386.61 L600.77,386.80 L601.58,387.08 L602.38,386.75 L603.19,386.68 L603.99,387.00 L604.80,386.89 L604.80,412.40Z" fill="#6000D0"/>
<path d="M673.20,412.40 L673.20,389.30 L674.00,389.82 L674.81,391.33 L675.61,391.75 L676.41,392.58 L677.21,392.75 L678.02,392.85 L678.82,392.59 L679.62,392.47 L680.43,392.57 L681.23,392.75 L682.03,392.41 L682.83,392.29 L683.64,392.37 L684.44,392.16 L685.24,392.34 L686.05,392.55 L686.85,392.57 L687.65,392.64 L688.46,392.49 L689.26,392.36 L690.06,392.41 L690.86,392.73 L691.67,392.76 L692.47,393.11 L693.27,393.04 L694.08,393.48 L694.88,393.50 L695.68,393.66 L696.48,393.92 L697.29,394.06 L698.09,394.28 L698.89,394.49 L699.70,394.61 L700.50,395.39 L701.30,395.52 L702.10,395.59 L702.91,396.44 L703.71,396.54 L704.51,396.60 L705.32,396.36 L706.12,396.04 L706.92,396.48 L707.72,395.83 L708.53,396.20 L709.33,397.03 L710.13,396.90 L710.94,397.57 L711.74,397.53 L712.54,397.32 L713.34,397.68 L714.15,397.29 L714.95,396.97 L715.75,397.20 L716.56,396.91 L717.36,397.40 L718.16,397.54 L718.97,397.61 L719.77,397.10 L720.57,396.98 L721.37,395.99 L722.18,395.35 L722.98,394.49 L723.78,394.06 L724.59,393.52 L725.39,393.41 L726.19,392.74 L726.99,393.30 L727.80,392.71 L728.60,393.30 L728.60,412.40Z" fill="#6000D0"/>
<path d="M466,412.15 H674" stroke="#6000D0" stroke-opacity="0.45" stroke-width="0.5"/>
<path d="M466.40,379.00 V412.80" stroke="#222" stroke-width="1.0" fill="none"/>
<path d="M464.10,379.40 H466.40" stroke="#222" stroke-width="0.85" fill="none"/>
<text transform="translate(461.20,381.93) scale(0.930,1)" font-family="DejaVu Sans, Liberation Sans, sans-serif" font-size="6.1" text-anchor="end" fill="#000" stroke="#000" stroke-width="0.06" >81</text>
<path d="M464.10,387.65 H466.40" stroke="#222" stroke-width="0.85" fill="none"/>
<text transform="translate(461.20,390.18) scale(0.930,1)" font-family="DejaVu Sans, Liberation Sans, sans-serif" font-size="6.1" text-anchor="end" fill="#000" stroke="#000" stroke-width="0.06" >60.8</text>
<path d="M464.10,395.90 H466.40" stroke="#222" stroke-width="0.85" fill="none"/>
<text transform="translate(461.20,398.43) scale(0.930,1)" font-family="DejaVu Sans, Liberation Sans, sans-serif" font-size="6.1" text-anchor="end" fill="#000" stroke="#000" stroke-width="0.06" >40.5</text>
<path d="M464.10,404.15 H466.40" stroke="#222" stroke-width="0.85" fill="none"/>
<text transform="translate(461.20,406.68) scale(0.930,1)" font-family="DejaVu Sans, Liberation Sans, sans-serif" font-size="6.1" text-anchor="end" fill="#000" stroke="#000" stroke-width="0.06" >20.2</text>
<path d="M464.10,412.40 H466.40" stroke="#222" stroke-width="0.85" fill="none"/>
<text transform="translate(443.30,397.70) scale(0.930,1) rotate(-90)" font-family="DejaVu Sans, Liberation Sans, sans-serif" font-size="5.9" text-anchor="middle" fill="#000" stroke="#000" stroke-width="0.06" >RPKM</text>
<path d="M604.8,387.00 C605,379.40 625,379.00 639,379.00 S673,379.30 673.2,390.00" stroke="#6000D0" stroke-width="1.4" fill="none"/>
<rect x="631" y="375.40" width="15.5" height="7" fill="#fff"/>
<text transform="translate(638.60,380.60) scale(0.950,1)" font-family="DejaVu Sans, Liberation Sans, sans-serif" font-size="4.8" text-anchor="middle" fill="#000" >367</text>
<path d="M551.5,386.40 L551.9,381.80" stroke="#6000D0" stroke-width="1.3" fill="none"/>
<path d="M560.6,385.60 L560.2,381.80" stroke="#6000D0" stroke-width="1.3" fill="none"/>
<text transform="translate(556.20,378.00) scale(0.887,1)" font-family="DejaVu Sans, Liberation Sans, sans-serif" font-size="4.9" text-anchor="middle" fill="#000" >392</text>
<text transform="translate(728.50,373.90) scale(0.953,1)" font-family="DejaVu Sans, Liberation Sans, sans-serif" font-size="6.3" text-anchor="end" fill="#6000D0" stroke="#6000D0" stroke-width="0.06" >NA R0 IncLevel: 1.00</text>
<path d="M466.40,469.80 L466.40,469.29 L467.20,469.21 L468.00,469.62 L468.80,469.47 L469.60,469.61 L470.40,469.43 L471.20,469.50 L472.00,469.13 L472.80,469.50 L473.60,469.06 L474.40,468.77 L475.20,467.86 L476.00,467.60 L476.80,467.69 L477.60,467.60 L478.40,467.04 L479.20,466.99 L480.00,466.66 L480.80,466.32 L481.60,466.13 L482.40,465.91 L483.20,465.15 L484.00,464.94 L484.80,464.82 L485.60,464.13 L486.40,463.88 L487.20,463.35 L488.00,463.02 L488.80,462.79 L489.60,462.43 L490.40,462.15 L491.20,461.43 L492.00,460.83 L492.80,460.32 L493.60,459.54 L494.40,459.05 L495.20,458.67 L496.00,458.08 L496.80,457.25 L497.60,456.77 L498.40,456.34 L499.20,456.02 L500.00,455.85 L500.80,455.32 L501.60,455.15 L502.40,454.32 L503.20,453.55 L504.00,452.98 L504.80,452.11 L505.60,451.85 L506.40,451.14 L507.20,450.16 L508.00,449.67 L508.80,449.10 L509.60,448.79 L510.40,448.52 L511.20,448.12 L512.00,447.71 L512.80,447.07 L513.60,446.45 L514.40,445.64 L515.20,445.89 L516.00,445.54 L516.80,445.31 L517.60,445.22 L518.40,445.03 L519.20,444.74 L520.00,444.72 L520.80,444.74 L521.60,444.65 L522.40,444.64 L523.20,444.04 L524.00,444.34 L524.80,444.17 L525.60,444.01 L526.40,444.07 L527.20,443.42 L528.00,443.71 L528.80,443.68 L529.60,443.07 L530.40,443.29 L531.20,443.46 L532.00,442.99 L532.80,443.29 L533.60,443.62 L534.40,443.74 L535.20,443.88 L536.00,443.96 L536.80,444.40 L537.60,444.18 L538.40,444.15 L539.20,444.01 L540.00,443.32 L540.80,441.89 L541.60,440.57 L542.40,439.94 L543.20,439.55 L544.00,439.80 L544.80,440.38 L545.60,440.08 L546.40,440.08 L547.20,440.71 L548.00,440.43 L548.80,440.54 L549.60,441.24 L550.40,441.06 L551.20,441.77 L552.00,441.69 L552.00,469.80Z" fill="#AD2227"/>
<path d="M560.50,469.80 L560.50,439.71 L561.31,440.61 L562.11,441.61 L562.92,442.37 L563.72,442.63 L564.53,443.01 L565.33,443.19 L566.14,443.79 L566.94,443.79 L567.75,443.61 L568.55,443.58 L569.36,443.04 L570.17,443.13 L570.97,443.25 L571.78,443.36 L572.58,444.02 L573.39,443.97 L574.19,443.78 L575.00,443.35 L575.80,442.88 L576.61,442.88 L577.41,442.67 L578.22,443.44 L579.03,443.26 L579.83,443.51 L580.64,443.70 L581.44,442.88 L582.25,443.00 L583.05,442.26 L583.86,442.15 L584.66,441.75 L585.47,442.29 L586.27,442.00 L587.08,441.99 L587.89,442.22 L588.69,442.21 L589.50,442.02 L590.30,441.97 L591.11,442.29 L591.91,441.97 L592.72,442.54 L593.52,442.24 L594.33,442.16 L595.13,442.29 L595.94,442.19 L596.75,442.35 L597.55,442.52 L598.36,442.46 L599.16,442.43 L599.97,442.41 L600.77,442.55 L601.58,442.75 L602.38,442.54 L603.19,442.77 L603.99,442.60 L604.80,442.38 L604.80,469.80Z" fill="#AD2227"/>
<path d="M673.20,469.80 L673.20,444.55 L674.00,446.13 L674.81,447.04 L675.61,447.71 L676.41,448.40 L677.21,449.04 L678.02,448.69 L678.82,448.63 L679.62,448.58 L680.43,448.31 L681.23,448.60 L682.03,448.51 L682.83,448.47 L683.64,448.39 L684.44,448.41 L685.24,448.60 L686.05,448.31 L686.85,448.86 L687.65,448.35 L688.46,448.87 L689.26,448.47 L690.06,448.92 L690.86,448.71 L691.67,448.72 L692.47,449.14 L693.27,449.46 L694.08,449.60 L694.88,449.75 L695.68,449.94 L696.48,449.58 L697.29,450.09 L698.09,450.22 L698.89,450.93 L699.70,451.04 L700.50,451.55 L701.30,451.93 L702.10,452.40 L702.91,452.54 L703.71,453.01 L704.51,452.84 L705.32,452.41 L706.12,452.80 L706.92,452.16 L707.72,452.03 L708.53,452.76 L709.33,452.87 L710.13,453.57 L710.94,453.63 L711.74,453.72 L712.54,453.97 L713.34,453.47 L714.15,453.70 L714.95,453.91 L715.75,453.37 L716.56,453.70 L717.36,453.76 L718.16,453.73 L718.97,453.87 L719.77,453.86 L720.57,452.87 L721.37,452.18 L722.18,451.60 L722.98,451.07 L723.78,450.13 L724.59,449.90 L725.39,449.15 L726.19,449.26 L726.99,449.01 L727.80,449.06 L728.60,449.15 L728.60,469.80Z" fill="#AD2227"/>
<path d="M466,469.55 H674" stroke="#AD2227" stroke-opacity="0.45" stroke-width="0.5"/>
<path d="M466.40,436.50 V470.20" stroke="#222" stroke-width="1.0" fill="none"/>
<path d="M464.10,436.90 H466.40" stroke="#222" stroke-width="0.85" fill="none"/>
<text transform="translate(461.20,439.43) scale(0.930,1)" font-family="DejaVu Sans, Liberation Sans, sans-serif" font-size="6.1" text-anchor="end" fill="#000" stroke="#000" stroke-width="0.06" >81</text>
<path d="M464.10,445.12 H466.40" stroke="#222" stroke-width="0.85" fill="none"/>
<text transform="translate(461.20,447.65) scale(0.930,1)" font-family="DejaVu Sans, Liberation Sans, sans-serif" font-size="6.1" text-anchor="end" fill="#000" stroke="#000" stroke-width="0.06" >60.8</text>
<path d="M464.10,453.35 H466.40" stroke="#222" stroke-width="0.85" fill="none"/>
<text transform="translate(461.20,455.88) scale(0.930,1)" font-family="DejaVu Sans, Liberation Sans, sans-serif" font-size="6.1" text-anchor="end" fill="#000" stroke="#000" stroke-width="0.06" >40.5</text>
<path d="M464.10,461.57 H466.40" stroke="#222" stroke-width="0.85" fill="none"/>
<text transform="translate(461.20,464.10) scale(0.930,1)" font-family="DejaVu Sans, Liberation Sans, sans-serif" font-size="6.1" text-anchor="end" fill="#000" stroke="#000" stroke-width="0.06" >20.2</text>
<path d="M464.10,469.80 H466.40" stroke="#222" stroke-width="0.85" fill="none"/>
<text transform="translate(443.30,455.15) scale(0.930,1) rotate(-90)" font-family="DejaVu Sans, Liberation Sans, sans-serif" font-size="5.9" text-anchor="middle" fill="#000" stroke="#000" stroke-width="0.06" >RPKM</text>
<path d="M604.8,442.62 C605,433.60 625,433.20 639,433.20 S673,433.50 673.2,445.76" stroke="#AD2227" stroke-width="1.4" fill="none"/>
<rect x="631" y="429.60" width="15.5" height="7" fill="#fff"/>
<text transform="translate(638.60,434.80) scale(0.950,1)" font-family="DejaVu Sans, Liberation Sans, sans-serif" font-size="4.8" text-anchor="middle" fill="#000" >397</text>
<path d="M551.5,442.59 L551.9,436.60" stroke="#AD2227" stroke-width="1.3" fill="none"/>
<path d="M560.6,441.04 L560.2,436.60" stroke="#AD2227" stroke-width="1.3" fill="none"/>
<text transform="translate(556.20,433.20) scale(0.887,1)" font-family="DejaVu Sans, Liberation Sans, sans-serif" font-size="4.9" text-anchor="middle" fill="#000" >405</text>
<text transform="translate(728.50,429.70) scale(0.958,1)" font-family="DejaVu Sans, Liberation Sans, sans-serif" font-size="6.3" text-anchor="end" fill="#AD2227" stroke="#AD2227" stroke-width="0.06" >NA S1 IncLevel: 1.00</text>
<text transform="translate(612.30,480.40) scale(0.900,1)" font-family="DejaVu Sans, Liberation Sans, sans-serif" font-size="4.0" text-anchor="middle" fill="#000" stroke="#000" stroke-width="0.06" >0</text>
<path d="M466.00,489.00 H728.80" stroke="#222" stroke-width="0.9" fill="none"/>
<path d="M466.40,489.00 V491.70" stroke="#222" stroke-width="0.85" fill="none"/>
<text transform="translate(466.40,497.60) scale(0.969,1)" font-family="DejaVu Sans, Liberation Sans, sans-serif" font-size="5.0" text-anchor="middle" fill="#000" stroke="#000" stroke-width="0.06" >568227</text>
<path d="M518.80,489.00 V491.70" stroke="#222" stroke-width="0.85" fill="none"/>
<text transform="translate(518.80,497.60) scale(0.969,1)" font-family="DejaVu Sans, Liberation Sans, sans-serif" font-size="5.0" text-anchor="middle" fill="#000" stroke="#000" stroke-width="0.06" >568107</text>
<path d="M571.20,489.00 V491.70" stroke="#222" stroke-width="0.85" fill="none"/>
<text transform="translate(571.20,497.60) scale(0.969,1)" font-family="DejaVu Sans, Liberation Sans, sans-serif" font-size="5.0" text-anchor="middle" fill="#000" stroke="#000" stroke-width="0.06" >567906</text>
<path d="M623.60,489.00 V491.70" stroke="#222" stroke-width="0.85" fill="none"/>
<text transform="translate(623.60,497.60) scale(0.969,1)" font-family="DejaVu Sans, Liberation Sans, sans-serif" font-size="5.0" text-anchor="middle" fill="#000" stroke="#000" stroke-width="0.06" >567614</text>
<path d="M676.00,489.00 V491.70" stroke="#222" stroke-width="0.85" fill="none"/>
<text transform="translate(676.00,497.60) scale(0.969,1)" font-family="DejaVu Sans, Liberation Sans, sans-serif" font-size="5.0" text-anchor="middle" fill="#000" stroke="#000" stroke-width="0.06" >567037</text>
<path d="M728.40,489.00 V491.70" stroke="#222" stroke-width="0.85" fill="none"/>
<text transform="translate(728.40,497.60) scale(0.969,1)" font-family="DejaVu Sans, Liberation Sans, sans-serif" font-size="5.0" text-anchor="middle" fill="#000" stroke="#000" stroke-width="0.06" >566916</text>
<text transform="translate(597.60,505.80) scale(0.913,1)" font-family="DejaVu Sans, Liberation Sans, sans-serif" font-size="6.6" text-anchor="middle" fill="#000" stroke="#000" stroke-width="0.06" >Genomic coordinate (5), "-" strand</text>
<path d="M551.30,606.50 H560.30" stroke="#333" stroke-width="0.75" fill="none"/>
<path d="M554.50,604.10 L555.80,606.50 L554.50,608.90 " stroke="#2a2a2a" stroke-width="0.6" fill="none"/>
<path d="M604.60,606.50 H672.90" stroke="#333" stroke-width="0.75" fill="none"/>
<path d="M606.80,604.10 L608.10,606.50 L606.80,608.90 M612.03,604.10 L613.33,606.50 L612.03,608.90 M617.26,604.10 L618.56,606.50 L617.26,608.90 M622.49,604.10 L623.79,606.50 L622.49,608.90 M627.72,604.10 L629.02,606.50 L627.72,608.90 M632.95,604.10 L634.25,606.50 L632.95,608.90 M638.18,604.10 L639.48,606.50 L638.18,608.90 M643.41,604.10 L644.71,606.50 L643.41,608.90 M648.64,604.10 L649.94,606.50 L648.64,608.90 M653.87,604.10 L655.17,606.50 L653.87,608.90 M659.10,604.10 L660.40,606.50 L659.10,608.90 M664.33,604.10 L665.63,606.50 L664.33,608.90 M669.56,604.10 L670.86,606.50 L669.56,608.90 " stroke="#2a2a2a" stroke-width="0.6" fill="none"/>
<rect x="466.30" y="600.70" width="85.00" height="10.90" fill="#000"/>
<rect x="560.30" y="600.70" width="44.30" height="10.90" fill="#000"/>
<rect x="672.90" y="600.70" width="55.90" height="10.90" fill="#000"/>
<path d="M551.30,642.50 H672.90" stroke="#333" stroke-width="0.75" fill="none"/>
<path d="M554.50,640.10 L555.80,642.50 L554.50,644.90 M559.73,640.10 L561.03,642.50 L559.73,644.90 M564.96,640.10 L566.26,642.50 L564.96,644.90 M570.19,640.10 L571.49,642.50 L570.19,644.90 M575.42,640.10 L576.72,642.50 L575.42,644.90 M580.65,640.10 L581.95,642.50 L580.65,644.90 M585.88,640.10 L587.18,642.50 L585.88,644.90 M591.11,640.10 L592.41,642.50 L591.11,644.90 M596.34,640.10 L597.64,642.50 L596.34,644.90 M601.57,640.10 L602.87,642.50 L601.57,644.90 M606.80,640.10 L608.10,642.50 L606.80,644.90 M612.03,640.10 L613.33,642.50 L612.03,644.90 M617.26,640.10 L618.56,642.50 L617.26,644.90 M622.49,640.10 L623.79,642.50 L622.49,644.90 M627.72,640.10 L629.02,642.50 L627.72,644.90 M632.95,640.10 L634.25,642.50 L632.95,644.90 M638.18,640.10 L639.48,642.50 L638.18,644.90 M643.41,640.10 L644.71,642.50 L643.41,644.90 M648.64,640.10 L649.94,642.50 L648.64,644.90 M653.87,640.10 L655.17,642.50 L653.87,644.90 M659.10,640.10 L660.40,642.50 L659.10,644.90 M664.33,640.10 L665.63,642.50 L664.33,644.90 M669.56,640.10 L670.86,642.50 L669.56,644.90 " stroke="#2a2a2a" stroke-width="0.6" fill="none"/>
<rect x="466.30" y="637.10" width="85.00" height="11.40" fill="#000"/>
<rect x="672.90" y="637.10" width="55.90" height="11.40" fill="#000"/>
</svg>
</body></html>
